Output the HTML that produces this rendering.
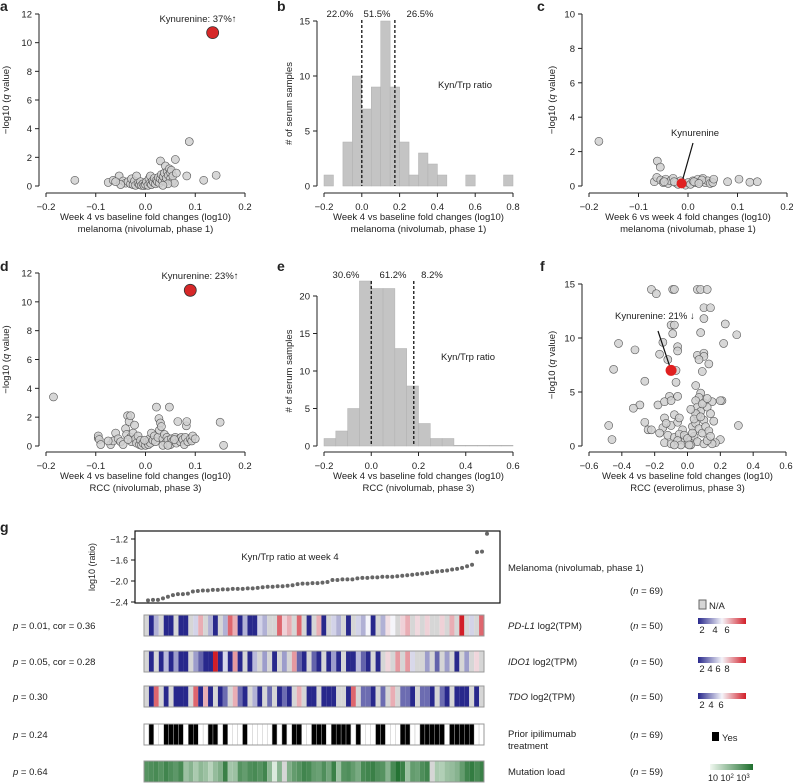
<!DOCTYPE html>
<html><head><meta charset="utf-8">
<style>
html,body{margin:0;padding:0;background:#fff;}
svg{display:block;font-family:"Liberation Sans",Arial,sans-serif;}
text{fill:#222;}
</style></head>
<body>
<svg id="fig" width="793" height="784" viewBox="0 0 793 784" xmlns="http://www.w3.org/2000/svg"></svg>
<script>
// ---------- DATA ----------
const aX=[-0.142,-0.075,-0.065,-0.053,-0.045,-0.04,-0.035,-0.03,-0.028,-0.025,-0.022,-0.02,-0.018,-0.015,-0.012,-0.01,-0.008,-0.005,-0.003,0,0.002,0.005,0.007,0.009,0.01,0.012,0.014,0.016,0.018,0.02,0.022,0.024,0.026,0.028,0.03,0.03,0.032,0.034,0.036,0.038,0.04,0.04,0.042,0.044,0.046,0.048,0.05,0.05,0.052,0.054,0.055,0.06,0.062,0.058,0.083,0.088,0.117,0.142,-0.05,-0.06,0.045,0.035];
const aY=[0.4,0.25,0.4,0.7,0.35,0.2,0.3,0.15,0.5,0.1,0.35,0.05,0.7,0.2,0.1,0.3,0.05,0.15,0.02,0.1,0.3,0.05,0.5,0.2,0.7,0.1,0.35,0.25,0.55,0.15,0.4,0.3,0.6,0.2,0.5,1.75,0.8,0.35,0.65,0.9,1.4,0.3,0.55,1.0,0.75,1.2,0.5,0.95,1.1,0.3,0.7,1.85,0.9,0.2,0.7,3.1,0.4,0.75,0.1,0.3,0.15,0.05];
const aKyn=[0.135,10.7];
const cX=[-0.18,-0.062,-0.056,-0.068,-0.063,-0.055,-0.05,-0.045,-0.04,-0.035,-0.03,-0.025,-0.02,-0.015,-0.01,-0.005,0,0.005,0.01,0.015,0.02,0.025,0.03,0.035,0.04,0.045,0.05,0.052,0.08,0.103,0.125,0.14,-0.048,0.028,0.012,-0.028,0.022];
const cY=[2.6,1.45,1.1,0.25,0.5,0.35,0.2,0.4,0.15,0.3,0.45,0.2,0.1,0.3,0.15,0.05,0.2,0.1,0.3,0.2,0.4,0.25,0.45,0.2,0.3,0.15,0.2,0.4,0.25,0.4,0.22,0.25,0.25,0.35,0.25,0.25,0.15];
const cKyn=[-0.013,0.15];
const dX=[-0.185,-0.095,-0.095,-0.093,-0.09,-0.07,-0.065,-0.06,-0.055,-0.05,-0.045,-0.04,-0.038,-0.036,-0.033,-0.03,-0.03,-0.028,-0.025,-0.022,-0.02,-0.018,-0.015,-0.012,-0.01,-0.008,-0.005,0,0.003,0.006,0.008,0.01,0.012,0.015,0.018,0.02,0.022,0.025,0.027,0.028,0.03,0.032,0.035,0.038,0.04,0.043,0.045,0.048,0.05,0.052,0.055,0.06,0.062,0.065,0.068,0.07,0.072,0.075,0.078,0.08,0.082,0.083,0.085,0.09,0.093,0.095,0.1,0.15,0.157,-0.002,-0.035,0.035,0.058,0.045,-0.075];
const dY=[3.4,0.55,0.7,0.45,0.1,0.1,0.35,0.9,0.5,0.3,0.1,1.2,0.8,2.1,1.7,2.1,0.6,0.3,0.9,1.45,0.5,0.2,0.7,0.1,0.4,0.05,0.2,0.05,0.3,0.1,0.5,0.2,0.9,0.4,0.7,0.3,2.7,0.6,1.9,1.1,1.6,1.35,0.5,0.8,0.2,0.6,0.4,2.7,0.1,0.5,0.35,0.6,0.2,1.7,0.5,0.3,0.6,0.45,0.1,0.6,1.4,1.7,0.3,0.5,0.35,0.7,0.5,1.65,0.05,0.4,0.45,0.05,0.45,0.05,0.35];
const dKyn=[0.09,10.8];
const fX=[-0.22,-0.19,-0.09,-0.08,0.06,0.08,0.12,0.1,0.14,0.1,-0.1,-0.08,-0.09,0.08,0.23,0.3,0.22,-0.42,-0.15,-0.06,-0.06,-0.32,-0.17,0.06,0.1,0.1,0.07,-0.12,0.13,-0.45,-0.07,0.09,-0.26,-0.07,0.05,0.08,0.07,-0.11,-0.06,0.21,-0.29,-0.33,-0.18,-0.14,-0.1,0.05,0.1,0.15,0.2,0.06,0.08,0.12,0.14,0.06,0.1,0.16,-0.08,-0.14,-0.26,-0.24,-0.22,-0.48,-0.46,0.31,0.2,0.17,0.15,-0.15,-0.1,-0.06,-0.03,0.03,0.05,0.07,0.09,-0.12,-0.08,-0.05,-0.02,0,0.02,0.04,0.06,0.1,-0.14,-0.1,-0.06,-0.04,0.02,0.05,0.04,0.08,0.11,0.13,-0.13,-0.17,-0.05,0.02,0.09,0.12,-0.02,0.0,0.03,0.01,-0.08,0.12,0.14];
const fY=[14.5,14.1,14.5,14.5,14.5,14.5,14.5,12.8,12.8,11.8,11.2,11.2,10.4,10.5,11.3,10.3,9.5,9.5,9.6,9.2,8.8,8.9,8.5,8.4,8.6,8.3,8.0,8.0,7.6,7.1,7.0,6.9,6.0,5.9,5.6,4.9,4.5,4.6,4.6,4.2,3.8,3.5,3.8,4.1,4.2,4.2,4.0,4.1,4.2,3.6,3.2,3.6,3.0,2.8,2.4,2.3,2.9,2.6,2.2,1.5,1.5,1.9,0.6,1.9,0.6,0.3,0.2,1.7,1.9,2.2,1.5,1.8,2.1,1.6,1.2,1.0,0.8,1.1,0.5,0.2,0.6,0.9,0.4,0.2,0.3,0.2,0.5,0.1,0.1,3.0,2.5,2.7,1.8,1.4,2.1,1.2,2.6,3.4,3.9,4.4,1.0,0.7,1.2,0.1,0.1,0.5,0.9];
const fKyn=[-0.1,7.0];
const bCounts=[1,0,4,10,7,9,15,9,4,1,3,2,1,0,0,1,0,0,0,1];
const eCounts=[1,2,5,22,21,21,13,8,3,1,1,0.1,0.1,0.1,0.1,0.1];
const gRatio=[-2.37,-2.36,-2.36,-2.33,-2.3,-2.27,-2.25,-2.25,-2.24,-2.2,-2.19,-2.18,-2.18,-2.17,-2.17,-2.16,-2.16,-2.15,-2.15,-2.15,-2.14,-2.14,-2.13,-2.12,-2.11,-2.11,-2.1,-2.1,-2.09,-2.08,-2.06,-2.05,-2.05,-2.04,-2.04,-2.03,-2.02,-1.98,-1.98,-1.97,-1.97,-1.97,-1.95,-1.94,-1.94,-1.93,-1.93,-1.92,-1.92,-1.92,-1.91,-1.9,-1.89,-1.88,-1.87,-1.86,-1.85,-1.83,-1.82,-1.81,-1.8,-1.78,-1.77,-1.75,-1.72,-1.69,-1.45,-1.44,-1.1];
const N=null;
const pdl1=[N,1,3,N,1,1,N,1,1,N,3.5,5,N,3,1,N,3,6,5,1,3,1,1,3.5,3,N,N,6,4.5,5,N,6,N,1,N,5,1,N,3.5,3,N,1,N,3.5,3,4,1,N,3,4.3,4,N,4.5,5,N,4.4,N,4.5,N,N,4.5,N,5,N,7,N,3.5,N,6];
const ido1=[N,1,N,1,3.5,1,3,1,1,N,3,2,1,1,8,1,4,1,6,1,N,1,3.5,N,3,N,1,N,3,N,6,2,1,N,2,1,N,1,3,1,N,1,1,3.5,2,1,N,1,N,5,N,6,N,6,4,N,N,3,N,2,N,3,N,1,N,3,N,5,N];
const tdo=[N,1,6,N,1,N,1,1,1,N,6,1,5,1,N,1,2,N,5,2,1,N,3,1,N,2,N,1,2,1,N,5,N,1,1,N,1,1,1,N,N,1,6,N,2,2,1,N,2,N,5,N,2,2,1,N,2,2,1,N,2,1,N,1,1,1,N,1,N];
const ipi=[0,1,0,0,1,1,1,1,0,1,1,0,0,1,1,0,1,0,0,0,1,0,0,0,0,0,1,0,1,0,1,1,0,0,1,1,1,0,1,1,1,1,0,1,0,0,0,1,1,0,0,0,1,1,0,0,1,1,1,1,1,0,1,1,1,1,1,0,0];
const mut=[2.2,2.3,2.4,2.2,2.5,2.3,2.1,2.4,1.2,1.5,1.0,1.4,1.2,0.8,1.3,1.6,2.6,1.1,1.2,2.2,2.0,2.3,2.4,2.2,2.5,1.4,0.3,1.5,N,1.6,2.0,2.2,2.5,2.4,2.0,1.9,2.3,1.8,2.6,1.2,2.2,2.3,2.0,1.7,2.4,2.5,2.6,2.3,2.2,1.5,2.4,2.9,2.6,1.2,2.0,1.9,2.3,2.5,N,1.0,0.9,1.2,1.3,1.5,2.0,2.5,2.7,2.4,2.6];

// ---------- HELPERS ----------
const svg=document.getElementById('fig');
const NS='http://www.w3.org/2000/svg';
function mk(tag,attrs,parent){const e=document.createElementNS(NS,tag);for(const k in attrs)e.setAttribute(k,attrs[k]);(parent||svg).appendChild(e);return e;}
function txt(x,y,s,attrs,parent){const e=mk('text',Object.assign({x:x,y:y,'font-size':9.5},attrs||{}),parent);e.textContent=s;return e;}
function lin(d0,d1,r0,r1){return v=>r0+(v-d0)/(d1-d0)*(r1-r0);}
function fmt(v,dec){const s=Math.abs(v).toFixed(dec);return (v<0?'\u2212':'')+s;}

function axes(g,o){
  const ya=mk('line',{x1:o.yx,x2:o.yx,y1:o.sy(o.yt[0]),y2:o.sy(o.yt[o.yt.length-1]),stroke:'#222','stroke-width':1},g);
  
  o.yt.forEach(t=>{mk('line',{x1:o.yx-4,x2:o.yx,y1:o.sy(t),y2:o.sy(t),stroke:'#222'},g);
    const l=txt(o.yx-7,o.sy(t)+3.5,String(t),{'text-anchor':'end'},g);});
  const xa=mk('line',{x1:o.sx(o.xt[0]),x2:o.sx(o.xt[o.xt.length-1]),y1:o.xy,y2:o.xy,stroke:'#222'},g);
  
  o.xt.forEach(t=>{mk('line',{x1:o.sx(t),x2:o.sx(t),y1:o.xy,y2:o.xy+4,stroke:'#222'},g);
    const l=txt(o.sx(t),o.xy+17,fmt(t,1),{'text-anchor':'middle'},g);});
  const cx=(o.sx(o.xt[0])+o.sx(o.xt[o.xt.length-1]))/2;
  o.xl.forEach((s,i)=>{const l=txt(cx,o.xy+27+i*12,s,{'text-anchor':'middle'},g);});
  const ymid=(o.sy(o.yt[0])+o.sy(o.yt[o.yt.length-1]))/2;
  const yl=mk('text',{x:0,y:0,'font-size':9.5,'text-anchor':'middle',transform:`translate(${o.ylx},${ymid}) rotate(-90)`},g);
  
  if(o.q){yl.innerHTML='\u2212log10 (<tspan font-style="italic">q</tspan> value)';}else yl.textContent=o.yl;
  const L=txt(o.lx,o.ly,o.letter,{'font-size':14,'font-weight':'bold'},g);
}

function volcano(name,o,X,Y){
  const g=mk('g',{});
  axes(g,o);
  X.forEach((x,i)=>{const c=mk('circle',{cx:o.sx(x),cy:o.sy(Y[i]),r:4,fill:'#d0d0d0','fill-opacity':0.85,stroke:'#555','stroke-width':0.6},g);
    });
  return g;
}

// ---------- PANEL A ----------
{const o={sx:lin(-0.2,0.2,46,245),sy:lin(0,12,186,14),yx:39,xy:193,yt:[0,2,4,6,8,10,12],xt:[-0.2,-0.1,0,0.1,0.2],
  xl:['Week 4 vs baseline fold changes (log10)','melanoma (nivolumab, phase 1)'],ylx:9,q:true,letter:'a',lx:0,ly:11};
 const g=volcano('panel-a-volcano',o,aX,aY);
 const k=mk('circle',{cx:o.sx(aKyn[0]),cy:o.sy(aKyn[1]),r:6,fill:'#d62728',stroke:'#333','stroke-width':0.8},g);
 
 const t=txt(198,22,'Kynurenine: 37%\u2191',{'text-anchor':'middle'},g);}

// ---------- PANEL C ----------
{const o={sx:lin(-0.2,0.2,589,787),sy:lin(0,10,186,14),yx:582,xy:193,yt:[0,2,4,6,8,10],xt:[-0.2,-0.1,0,0.1,0.2],
  xl:['Week 6 vs week 4 fold changes (log10)','melanoma (nivolumab, phase 1)'],ylx:555,q:true,letter:'c',lx:537,ly:11};
 const g=volcano('panel-c-volcano',o,cX,cY);
 mk('line',{x1:693,y1:143,x2:o.sx(cKyn[0]),y2:o.sy(cKyn[1]),stroke:'#111','stroke-width':1.2},g);
 const k=mk('circle',{cx:o.sx(cKyn[0]),cy:o.sy(cKyn[1]),r:5,fill:'#e02020'},g);
 
 const t=txt(695,136,'Kynurenine',{'text-anchor':'middle'},g);}

// ---------- PANEL D ----------
{const o={sx:lin(-0.2,0.2,46,245),sy:lin(0,12,446,273),yx:39,xy:452,yt:[0,2,4,6,8,10,12],xt:[-0.2,-0.1,0,0.1,0.2],
  xl:['Week 4 vs baseline fold changes (log10)','RCC (nivolumab, phase 3)'],ylx:9,q:true,letter:'d',lx:0,ly:271};
 const g=volcano('panel-d-volcano',o,dX,dY);
 const k=mk('circle',{cx:o.sx(dKyn[0]),cy:o.sy(dKyn[1]),r:6,fill:'#d62728',stroke:'#333','stroke-width':0.8},g);
 
 const t=txt(200,279,'Kynurenine: 23%\u2191',{'text-anchor':'middle'},g);}

// ---------- PANEL F ----------
{const o={sx:lin(-0.6,0.6,589,786),sy:lin(0,15,446,284),yx:582,xy:452,yt:[0,5,10,15],xt:[-0.6,-0.4,-0.2,0,0.2,0.4,0.6],
  xl:['Week 4 vs baseline fold changes (log10)','RCC (everolimus, phase 3)'],ylx:555,q:true,letter:'f',lx:540,ly:271};
 const g=volcano('panel-f-volcano',o,fX,fY);
 mk('line',{x1:658,y1:331,x2:o.sx(fKyn[0]),y2:o.sy(fKyn[1]),stroke:'#111','stroke-width':1.2},g);
 const k=mk('circle',{cx:o.sx(fKyn[0]),cy:o.sy(fKyn[1]),r:5.5,fill:'#e02020'},g);
 
 const t=txt(615,319,'Kynurenine: 21% \u2193',{},g);}

// ---------- HISTOGRAMS ----------
function hist(name,o,counts,cuts,pcts){
  const g=mk('g',{});
  axes(g,o);
  counts.forEach((c,i)=>{const x0=-0.2+i*0.05;const r=mk('rect',{x:o.sx(x0),y:o.sy(c),width:o.sx(x0+0.05)-o.sx(x0),height:o.sy(0)-o.sy(c),fill:'#c4c4c4',stroke:'#b0b0b0','stroke-width':0.5},g);
    });
  cuts.forEach(c=>{const l=mk('line',{x1:o.sx(c),x2:o.sx(c),y1:o.top,y2:o.sy(0),stroke:'#111','stroke-width':1.3,'stroke-dasharray':'3,2'},g);
    });
  pcts.forEach((p,i)=>{const t=txt(o.px[i],o.py,p,{'text-anchor':'middle'},g);});
  const t=txt(o.kx,o.ky,'Kyn/Trp ratio',{'text-anchor':'middle'},g);
}
hist('panel-b-histogram',{sx:lin(-0.2,0.8,324,513),sy:lin(0,15,186,21),yx:317,xy:193,yt:[0,5,10,15],xt:[-0.2,0,0.2,0.4,0.6,0.8],
  xl:['Week 4 vs baseline fold changes (log10)','melanoma (nivolumab, phase 1)'],ylx:292,yl:'# of serum samples',letter:'b',lx:277,ly:11,
  top:20,px:[340,377,420],py:17,kx:465,ky:88},bCounts,[0,0.175],['22.0%','51.5%','26.5%']);
hist('panel-e-histogram',{sx:lin(-0.2,0.6,324,513),sy:lin(0,20,446,296),yx:317,xy:452,yt:[0,5,10,15,20],xt:[-0.2,0,0.2,0.4,0.6],
  xl:['Week 4 vs baseline fold changes (log10)','RCC (nivolumab, phase 3)'],ylx:292,yl:'# of serum samples',letter:'e',lx:277,ly:271,
  top:281,px:[346,393,432],py:278,kx:468,ky:360},eCounts,[0,0.18],['30.6%','61.2%','8.2%']);

// ---------- PANEL G ----------
{const g=mk('g',{});
 const L=txt(0,532,'g',{'font-size':14,'font-weight':'bold'},g);
 const box=mk('rect',{x:135,y:531,width:365,height:72,fill:'none',stroke:'#111','stroke-width':1.2},g);
 
 const sy=lin(-1.2,-2.4,539,602);
 [-1.2,-1.6,-2.0,-2.4].forEach(t=>{mk('line',{x1:131,x2:135,y1:sy(t),y2:sy(t),stroke:'#111'},g);
   const l=txt(128,sy(t)+3.5,fmt(t,1),{'text-anchor':'end','font-size':9},g);});
 const yl=mk('text',{x:0,y:0,'font-size':9,'text-anchor':'middle',transform:'translate(95,567) rotate(-90)'},g);yl.textContent='log10 (ratio)';
 
 const sx=i=>148+i*(487-148)/(gRatio.length-1);
 gRatio.forEach((v,i)=>{const c=mk('circle',{cx:sx(i),cy:sy(v),r:2,fill:'#666'},g);});
 const t=txt(290,560,'Kyn/Trp ratio at week 4',{'text-anchor':'middle','font-size':9.5},g);
 const m=txt(508,571,'Melanoma (nivolumab, phase 1)',{},g);
 const n0=mk('text',{x:630,y:594,'font-size':9.5},g);n0.innerHTML='(<tspan font-style="italic">n</tspan> = 69)';

 function blend(a,b,t){return 'rgb('+a.map((v,i)=>Math.round(v+(b[i]-v)*t)).join(',')+')';}
 const W=[245,245,250],B=[40,40,140],R=[210,30,40];
 function div(v,lo,mid,hi){if(v===null)return '#d6d6d6';if(v<=mid)return blend(W,B,Math.min(1,(mid-v)/(mid-lo)));return blend(W,R,Math.min(1,(v-mid)/(hi-mid)));}
 function grn(v){if(v===null)return '#d6d6d6';return blend([240,248,240],[30,110,45],Math.min(1,v/3));}
 const rows=[
  {name:'pd-l1-heatmap-row',y:615,vals:pdl1,col:v=>div(v,1,4,7),p:'= 0.01, cor = 0.36',lab:'PD-L1',n:50},
  {name:'ido1-heatmap-row',y:651,vals:ido1,col:v=>div(v,1,4.5,8),p:'= 0.05, cor = 0.28',lab:'IDO1',n:50},
  {name:'tdo-heatmap-row',y:686,vals:tdo,col:v=>div(v,1,4,7),p:'= 0.30',lab:'TDO',n:50},
  {name:'prior-ipilimumab-row',y:724,vals:ipi,col:v=>v?'#000':'#fff',p:'= 0.24',n:69},
  {name:'mutation-load-row',y:761,vals:mut,col:grn,p:'= 0.64',n:59}];
 rows.forEach(r=>{const rg=mk('g',{},g);
   const cw=340/r.vals.length;
   r.vals.forEach((v,i)=>{const c=mk('rect',{x:144+i*cw,y:r.y,width:cw,height:21,fill:r.col(v),stroke:r.name==='prior-ipilimumab-row'?'#bbb':'none','stroke-width':0.4},rg);
     });
   mk('rect',{x:144,y:r.y,width:340,height:21,fill:'none',stroke:'#999','stroke-width':1},rg);
   const p=mk('text',{x:13,y:r.y+14,'font-size':9.5},rg);p.innerHTML='<tspan font-style="italic">p</tspan> '+r.p;
   
   const n=mk('text',{x:630,y:r.y+14,'font-size':9.5},rg);n.innerHTML='(<tspan font-style="italic">n</tspan> = '+r.n+')';
   
   if(r.lab){const l=mk('text',{x:508,y:r.y+14,'font-size':9.5},rg);l.innerHTML='<tspan font-style="italic">'+r.lab+'</tspan> log2(TPM)';
     }
 });
 const pl=txt(508,737,'Prior ipilimumab',{},g);
 txt(508,749,'treatment',{},g);
 const ml=txt(508,775,'Mutation load',{},g);

 const defs=mk('defs',{},svg);
 const gd=mk('linearGradient',{id:'divg'},defs);
 [['0%','rgb(40,40,140)'],['50%','rgb(245,245,250)'],['100%','rgb(210,30,40)']].forEach(s=>mk('stop',{offset:s[0],'stop-color':s[1]},gd));
 const gg=mk('linearGradient',{id:'grng'},defs);
 [['0%','rgb(240,248,240)'],['100%','rgb(30,110,45)']].forEach(s=>mk('stop',{offset:s[0],'stop-color':s[1]},gg));
 const lg=mk('g',{},g);
 mk('rect',{x:699,y:600,width:7,height:9,fill:'#d6d6d6',stroke:'#666'},lg);txt(709,609,'N/A',{},lg);
 [[618,['2','4','6'],[702,715,727]],[657,['2','4','6','8'],[702,710,718,727]],[693,['2','4','6'],[702,711,721]]].forEach(b=>{
   const r=mk('rect',{x:698,y:b[0],width:48,height:6,fill:'url(#divg)'},lg);
   b[1].forEach((s,i)=>txt(b[2][i],b[0]+15,s,{'text-anchor':'middle'},lg));});
 mk('rect',{x:712,y:732,width:7,height:9,fill:'#000'},lg);txt(722,741,'Yes',{},lg);
 mk('rect',{x:710,y:764,width:43,height:6,fill:'url(#grng)'},lg);
 const mt=mk('text',{x:708,y:781,'font-size':9},lg);mt.innerHTML='10 10<tspan font-size="6" dy="-3">2</tspan><tspan dy="3"> 10</tspan><tspan font-size="6" dy="-3">3</tspan>';
}
</script>
</body></html>
